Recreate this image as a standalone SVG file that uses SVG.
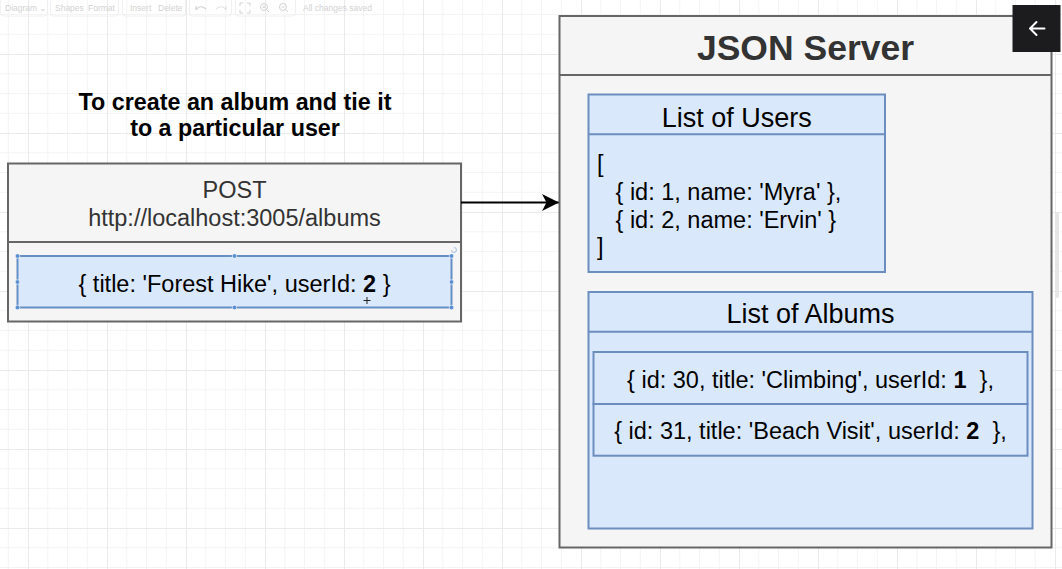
<svg xmlns="http://www.w3.org/2000/svg" width="1062" height="569" viewBox="0 0 1062 569">
  <style>
    text { font-family: "Liberation Sans", Arial, Helvetica, sans-serif; }
    .gray { fill: #f5f5f5; stroke: #666666; stroke-width: 2; }
    .blue { fill: #dae8fc; stroke: #6c8ebf; stroke-width: 2; }
    .body { font-size: 23.5px; fill: #000; }
    .gtext { font-size: 23.5px; fill: #333333; }
    .title { font-size: 27px; fill: #000; }
    .tb { font-size: 8.5px; fill: #d2d2d2; }
    .tbbox { fill: none; stroke: #f0f0f0; stroke-width: 1; }
    .handle { fill: #5a8fd0; stroke: #ffffff; stroke-width: 0.6; }
  </style>
  <defs>
    <pattern id="grid" patternUnits="userSpaceOnUse" x="28" y="54" width="79" height="79">
      <path d="M19.75 0V79M39.5 0V79M59.25 0V79M0 19.75H79M0 39.5H79M0 59.25H79" stroke="#f4f4f4" stroke-width="1" fill="none"/>
      <path d="M0.5 0V79M0 0.5H79" stroke="#eaeaea" stroke-width="1" fill="none"/>
    </pattern>
    <marker id="arrow" markerUnits="userSpaceOnUse" markerWidth="20" markerHeight="20" viewBox="0 0 20 20" refX="17" refY="10" orient="auto">
      <path d="M17 10 L0 1.5 L4.5 10 L0 18.5 Z" fill="#000"/>
    </marker>
  </defs>

  <rect width="1062" height="569" fill="#ffffff"/>
  <rect width="1062" height="569" fill="url(#grid)"/>

  <g id="toolbar">
    <rect class="tbbox" x="0.5" y="-2" width="47" height="18" rx="3"/>
    <text class="tb" x="5" y="11">Diagram ⌄</text>
    <rect class="tbbox" x="50.5" y="-2" width="68" height="18" rx="3"/>
    <text class="tb" x="55" y="11">Shapes</text>
    <text class="tb" x="88" y="11">Format</text>
    <rect class="tbbox" x="122.5" y="-2" width="63" height="18" rx="3"/>
    <text class="tb" x="130" y="11">Insert</text>
    <text class="tb" x="158" y="11">Delete</text>
    <rect class="tbbox" x="189.5" y="-2" width="42" height="18" rx="3"/>
    <path d="M196 10 Q200 4 206 9 M196 10 V6" stroke="#d2d2d2" stroke-width="1.2" fill="none"/>
    <path d="M226 10 Q222 4 216 9 M226 10 V6" stroke="#e4e4e4" stroke-width="1.2" fill="none"/>
    <rect class="tbbox" x="235.5" y="-2" width="60" height="18" rx="3"/>
    <path d="M240 6V3H243M247 3H250V6M250 10V13H247M243 13H240V10" stroke="#d2d2d2" stroke-width="1" fill="none"/>
    <circle cx="264" cy="7" r="3.5" stroke="#d2d2d2" fill="none"/>
    <path d="M266.5 9.5L269 12M262.5 7H265.5M264 5.5V8.5" stroke="#d2d2d2" fill="none"/>
    <circle cx="283" cy="7" r="3.5" stroke="#d2d2d2" fill="none"/>
    <path d="M285.5 9.5L288 12M281.5 7H284.5" stroke="#d2d2d2" fill="none"/>
    <text class="tb" x="303" y="11">All changes saved</text>
  </g>

  <g id="heading">
    <text x="235" y="110" text-anchor="middle" font-size="23.3" font-weight="bold" fill="#000">To create an album and tie it</text>
    <text x="235" y="136" text-anchor="middle" font-size="23.3" font-weight="bold" fill="#000">to a particular user</text>
  </g>

  <g id="post-request">
    <rect class="gray" x="8" y="163.5" width="453" height="158"/>
    <line x1="8" y1="242" x2="461" y2="242" stroke="#666666" stroke-width="2"/>
    <text class="gtext" x="234.5" y="198" text-anchor="middle">POST</text>
    <text class="gtext" x="234.5" y="226" text-anchor="middle">http://localhost:3005/albums</text>
  </g>

  <g id="post-body">
    <rect class="blue" x="17.5" y="256" width="434" height="51.5"/>
    <rect x="17.5" y="256" width="434" height="51.5" fill="none" stroke="#5a8fd0" stroke-width="1" stroke-dasharray="3 2"/>
    <text class="body" x="234.5" y="291.5" text-anchor="middle" xml:space="preserve">{ title: 'Forest Hike', userId: <tspan font-weight="bold">2</tspan> }</text>
    <circle class="handle" cx="17.5" cy="256" r="2.3"/>
    <circle class="handle" cx="234.5" cy="256" r="2.3"/>
    <circle class="handle" cx="451.5" cy="256" r="2.3"/>
    <circle class="handle" cx="17.5" cy="282" r="2.3"/>
    <circle class="handle" cx="451.5" cy="282" r="2.3"/>
    <circle class="handle" cx="17.5" cy="307.5" r="2.3"/>
    <circle class="handle" cx="234.5" cy="307.5" r="2.3"/>
    <circle class="handle" cx="451.5" cy="307.5" r="2.3"/>
    <path d="M454 247.5a2.5 2.5 0 1 1 -2.5 2.5" stroke="#8fb0d8" stroke-width="0.8" fill="none"/>
    <path d="M367 297V304M363.5 300.5H370.5" stroke="#222" stroke-width="1"/>
  </g>

  <g id="connectors">
    <line x1="461" y1="202.5" x2="559" y2="202.5" stroke="#000" stroke-width="2" marker-end="url(#arrow)"/>
  </g>

  <g id="json-server">
    <rect class="gray" x="559.5" y="16" width="492" height="531.5"/>
    <line x1="559.5" y1="75" x2="1051.5" y2="75" stroke="#666666" stroke-width="2"/>
    <text x="805.5" y="60" text-anchor="middle" font-size="35.5" font-weight="bold" fill="#333333">JSON Server</text>
  </g>

  <g id="list-of-users">
    <rect class="blue" x="588.5" y="94.5" width="296.5" height="177.5"/>
    <line x1="588.5" y1="134.3" x2="885" y2="134.3" stroke="#6c8ebf" stroke-width="2"/>
    <text class="title" x="736.7" y="126.5" text-anchor="middle">List of Users</text>
    <text class="body" x="597" y="172">[</text>
    <text class="body" x="615.5" y="199.5">{ id: 1, name: 'Myra' },</text>
    <text class="body" x="615.5" y="227.5">{ id: 2, name: 'Ervin' }</text>
    <text class="body" x="597" y="255">]</text>
  </g>

  <g id="list-of-albums">
    <rect class="blue" x="588.5" y="292" width="444" height="236.5"/>
    <line x1="588.5" y1="331.7" x2="1032.5" y2="331.7" stroke="#6c8ebf" stroke-width="2"/>
    <text class="title" x="810.5" y="322.5" text-anchor="middle">List of Albums</text>
  </g>

  <g id="album-30">
    <rect class="blue" x="593.5" y="352" width="434" height="52"/>
    <text class="body" x="810.5" y="388.3" text-anchor="middle" xml:space="preserve">{ id: 30, title: 'Climbing', userId: <tspan font-weight="bold">1</tspan>  },</text>
  </g>

  <g id="album-31">
    <rect class="blue" x="593.5" y="404" width="434" height="51.7"/>
    <text class="body" x="810.5" y="439.3" text-anchor="middle" xml:space="preserve">{ id: 31, title: 'Beach Visit', userId: <tspan font-weight="bold">2</tspan>  },</text>
  </g>

  <g id="overlay">
    <rect x="1055" y="212" width="4" height="86" rx="2" fill="#e6e6e6"/>
    <rect x="1012.5" y="5" width="48" height="47" fill="#1c1c1e"/>
    <path d="M1044.5 28.5H1030M1036.5 22L1030 28.5L1036.5 35" stroke="#ffffff" stroke-width="2" fill="none" stroke-linecap="round" stroke-linejoin="round"/>
  </g>
</svg>
